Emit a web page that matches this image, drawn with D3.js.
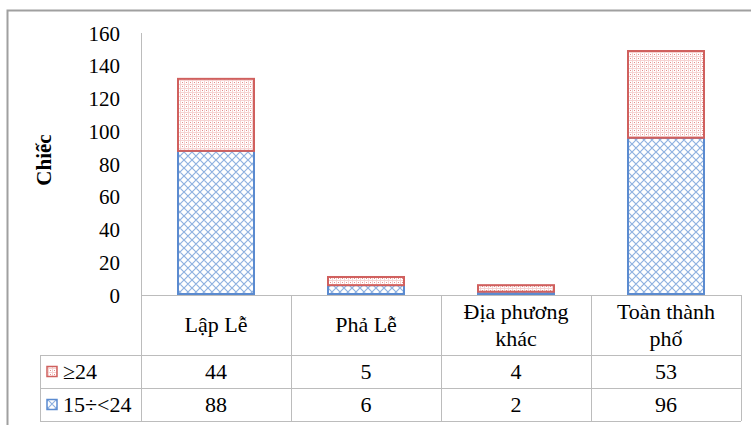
<!DOCTYPE html>
<html>
<head>
<meta charset="utf-8">
<script src="https://cdn.jsdelivr.net/npm/d3@7/dist/d3.min.js"></script>
<style>
  html, body { margin: 0; padding: 0; background: #fff; }
  svg { display: block; }
</style>
</head>
<body>
<svg id="chart" width="751" height="425"></svg>
<script>
// Number of vessels by group and length class
const categories = [["Lập Lễ"], ["Phả Lễ"], ["Địa phương", "khác"], ["Toàn thành", "phố"]];
const seriesNames = ["≥24", "15÷<24"];
const over24 = [44, 5, 4, 53];
const from15to24 = [88, 6, 2, 96];
const yTicks = [0, 20, 40, 60, 80, 100, 120, 140, 160];
const yTitle = "Chiếc";

const svg = d3.select("#chart");
const defs = svg.append("defs");

function styleText(sel, size, weight) {
  return sel.attr("font-family", "Liberation Serif")
    .attr("font-size", size)
    .attr("font-weight", weight || "normal")
    .attr("fill", "#000");
}

// Blue diagonal lattice pattern
const pBlue = defs.append("pattern").attr("id", "patBlue")
  .attr("patternUnits", "userSpaceOnUse").attr("width", 8).attr("height", 8);
pBlue.append("rect").attr("width", 8).attr("height", 8).attr("fill", "#fff");
pBlue.append("path").attr("d", "M0,0 L8,8 M8,0 L0,8 M-4,4 L0,8 M4,-4 L12,4 M-4,4 L4,-4 M4,12 L12,4")
  .attr("stroke", "#8fb1e0").attr("stroke-width", 1.2).attr("fill", "none");

// Red dotted grid pattern
const pRed = defs.append("pattern").attr("id", "patRed")
  .attr("patternUnits", "userSpaceOnUse").attr("width", 4).attr("height", 4);
pRed.append("rect").attr("width", 4).attr("height", 4).attr("fill", "#fff");
pRed.append("rect").attr("x", 0).attr("y", 0).attr("width", 4).attr("height", 1).attr("fill", "#f6d4d3");
pRed.append("rect").attr("x", 0).attr("y", 0).attr("width", 1).attr("height", 4).attr("fill", "#f6d4d3");
pRed.append("rect").attr("x", 2).attr("y", 2).attr("width", 1).attr("height", 1).attr("fill", "#e38e8c");

const colors = { blue: "#5b8bd0", red: "#d0605e" };

// Outer frame
svg.append("rect").attr("x", 7.5).attr("y", 10.5).attr("width", 800).attr("height", 500)
  .attr("fill", "none").attr("stroke", "#a0a0a0").attr("stroke-width", 2);

const plotLeft = 141, plotRight = 741, plotTop = 33, base = 295;
const y = d3.scaleLinear().domain([0, 160]).range([base, plotTop]);
const x = d3.scaleBand().domain(d3.range(categories.length)).range([plotLeft, plotRight])
  .paddingInner(0.48).paddingOuter(0.24);

// Y axis
const yAxis = svg.append("g").attr("transform", `translate(${plotLeft},0)`)
  .call(d3.axisLeft(y).tickValues(yTicks).tickSize(0).tickPadding(21));
yAxis.attr("font-family", "Liberation Serif").attr("font-size", 21);
yAxis.select(".domain").remove();
styleText(yAxis.selectAll("text"), 21).attr("dy", "0.34em");

svg.append("line").attr("x1", plotLeft + 0.5).attr("x2", plotLeft + 0.5).attr("y1", plotTop).attr("y2", 421)
  .attr("stroke", "#bcbcbc").attr("stroke-width", 1);

// Y title
styleText(svg.append("text").attr("transform", "translate(51,160) rotate(-90)")
  .attr("text-anchor", "middle").text(yTitle), 21, "bold");

// Stacked bars
const stacks = categories.map((c, i) => ({ i, low: from15to24[i], high: over24[i] }));
const bars = svg.append("g");
bars.selectAll(".low").data(stacks).join("rect")
  .attr("x", d => x(d.i) + 1).attr("width", x.bandwidth() - 2)
  .attr("y", d => y(d.low)).attr("height", d => y(0) - y(d.low) - 1)
  .attr("fill", "url(#patBlue)").attr("stroke", colors.blue).attr("stroke-width", 2);
bars.selectAll(".high").data(stacks).join("rect")
  .attr("x", d => x(d.i) + 1).attr("width", x.bandwidth() - 2)
  .attr("y", d => y(d.low + d.high)).attr("height", d => y(d.low) - y(d.low + d.high))
  .attr("fill", "url(#patRed)").attr("stroke", colors.red).attr("stroke-width", 2);

// Data table
const grid = "#bcbcbc";
const rowY = [base, 355, 388, 421];
const legendLeft = 40;
const g = svg.append("g");
rowY.forEach((ry, k) => {
  g.append("line").attr("x1", k === 0 ? plotLeft : legendLeft).attr("x2", plotRight)
    .attr("y1", ry + 0.5).attr("y2", ry + 0.5).attr("stroke", grid);
});
g.append("line").attr("x1", legendLeft + 0.5).attr("x2", legendLeft + 0.5).attr("y1", rowY[1]).attr("y2", rowY[3]).attr("stroke", grid);
const colEdges = d3.range(categories.length + 1).map(k => plotLeft + x.step() * k);
colEdges.slice(1).forEach(cx => {
  g.append("line").attr("x1", cx + 0.5).attr("x2", cx + 0.5).attr("y1", base).attr("y2", rowY[3]).attr("stroke", grid);
});

// Category headers
categories.forEach((lines, i) => {
  const cx = x(i) + x.bandwidth() / 2;
  const t = styleText(g.append("text").attr("text-anchor", "middle"), 22);
  const cy = (base + rowY[1]) / 2;
  const lh = 27;
  lines.forEach((ln, k) => {
    t.append("tspan").attr("x", cx)
      .attr("y", cy + (k - (lines.length - 1) / 2) * lh + 7).text(ln);
  });
});

// Value rows
const rows = [
  { name: seriesNames[0], vals: over24, pat: "url(#patRed)", col: colors.red },
  { name: seriesNames[1], vals: from15to24, pat: "url(#patBlue)", col: colors.blue }
];
rows.forEach((r, ri) => {
  const cy = (rowY[ri + 1] + rowY[ri + 2]) / 2;
  g.append("rect").attr("x", 47).attr("y", cy - 5).attr("width", 10).attr("height", 10)
    .attr("fill", r.pat).attr("stroke", r.col).attr("stroke-width", 1.5);
  styleText(g.append("text").attr("x", 63).attr("y", cy + 7).text(r.name), 22);
  r.vals.forEach((v, i) => {
    styleText(g.append("text").attr("x", x(i) + x.bandwidth() / 2).attr("y", cy + 7)
      .attr("text-anchor", "middle").text(v), 22);
  });
});
</script>
</body>
</html>
